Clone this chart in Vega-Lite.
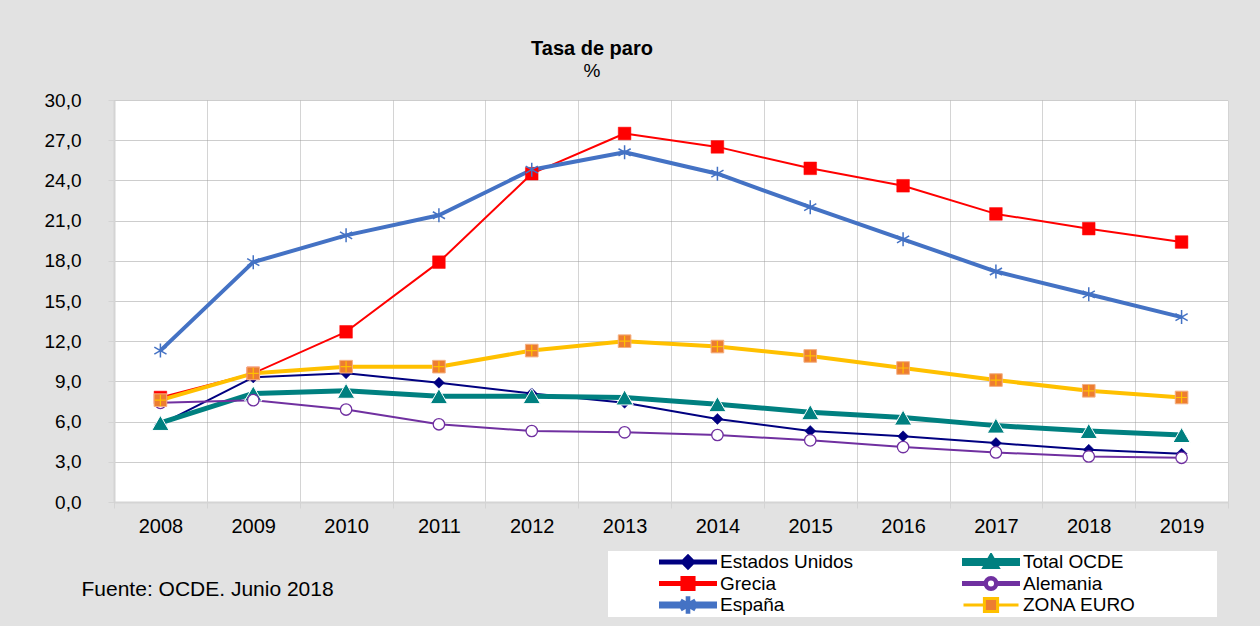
{
  "$schema": "https://vega.github.io/schema/vega-lite/v6.json",
  "background": "#e2e2e2",
  "autosize": {"type": "none"},
  "padding": {"left": 114, "top": 100, "right": 32, "bottom": 124},
  "width": 1114,
  "height": 402,
  "title": {
    "text": "Tasa de paro",
    "subtitle": "%",
    "frame": "group",
    "anchor": "middle",
    "dx": -79,
    "offset": 10,
    "font": "Liberation Sans",
    "fontSize": 20,
    "fontWeight": "bold",
    "color": "black",
    "subtitleFont": "Liberation Sans",
    "subtitleFontSize": 19,
    "subtitleColor": "black",
    "subtitlePadding": 3
  },
  "config": {
    "view": {"fill": "white", "stroke": null},
    "font": "Liberation Sans"
  },
  "data": {
    "values": [
      {"anio": 2008, "serie": "Estados Unidos", "valor": 5.8},
      {"anio": 2009, "serie": "Estados Unidos", "valor": 9.3},
      {"anio": 2010, "serie": "Estados Unidos", "valor": 9.6},
      {"anio": 2011, "serie": "Estados Unidos", "valor": 8.9},
      {"anio": 2012, "serie": "Estados Unidos", "valor": 8.1},
      {"anio": 2013, "serie": "Estados Unidos", "valor": 7.4},
      {"anio": 2014, "serie": "Estados Unidos", "valor": 6.2},
      {"anio": 2015, "serie": "Estados Unidos", "valor": 5.3},
      {"anio": 2016, "serie": "Estados Unidos", "valor": 4.9},
      {"anio": 2017, "serie": "Estados Unidos", "valor": 4.4},
      {"anio": 2018, "serie": "Estados Unidos", "valor": 3.9},
      {"anio": 2019, "serie": "Estados Unidos", "valor": 3.6},
      {"anio": 2008, "serie": "Total OCDE", "valor": 5.9},
      {"anio": 2009, "serie": "Total OCDE", "valor": 8.1},
      {"anio": 2010, "serie": "Total OCDE", "valor": 8.3},
      {"anio": 2011, "serie": "Total OCDE", "valor": 7.9},
      {"anio": 2012, "serie": "Total OCDE", "valor": 7.9},
      {"anio": 2013, "serie": "Total OCDE", "valor": 7.8},
      {"anio": 2014, "serie": "Total OCDE", "valor": 7.3},
      {"anio": 2015, "serie": "Total OCDE", "valor": 6.7},
      {"anio": 2016, "serie": "Total OCDE", "valor": 6.3},
      {"anio": 2017, "serie": "Total OCDE", "valor": 5.7},
      {"anio": 2018, "serie": "Total OCDE", "valor": 5.3},
      {"anio": 2019, "serie": "Total OCDE", "valor": 5.0},
      {"anio": 2008, "serie": "Grecia", "valor": 7.8},
      {"anio": 2009, "serie": "Grecia", "valor": 9.6},
      {"anio": 2010, "serie": "Grecia", "valor": 12.7},
      {"anio": 2011, "serie": "Grecia", "valor": 17.9},
      {"anio": 2012, "serie": "Grecia", "valor": 24.5},
      {"anio": 2013, "serie": "Grecia", "valor": 27.5},
      {"anio": 2014, "serie": "Grecia", "valor": 26.5},
      {"anio": 2015, "serie": "Grecia", "valor": 24.9},
      {"anio": 2016, "serie": "Grecia", "valor": 23.6},
      {"anio": 2017, "serie": "Grecia", "valor": 21.5},
      {"anio": 2018, "serie": "Grecia", "valor": 20.4},
      {"anio": 2019, "serie": "Grecia", "valor": 19.4},
      {"anio": 2008, "serie": "Alemania", "valor": 7.4},
      {"anio": 2009, "serie": "Alemania", "valor": 7.6},
      {"anio": 2010, "serie": "Alemania", "valor": 6.9},
      {"anio": 2011, "serie": "Alemania", "valor": 5.8},
      {"anio": 2012, "serie": "Alemania", "valor": 5.3},
      {"anio": 2013, "serie": "Alemania", "valor": 5.2},
      {"anio": 2014, "serie": "Alemania", "valor": 5.0},
      {"anio": 2015, "serie": "Alemania", "valor": 4.6},
      {"anio": 2016, "serie": "Alemania", "valor": 4.1},
      {"anio": 2017, "serie": "Alemania", "valor": 3.7},
      {"anio": 2018, "serie": "Alemania", "valor": 3.4},
      {"anio": 2019, "serie": "Alemania", "valor": 3.3},
      {"anio": 2008, "serie": "España", "valor": 11.3},
      {"anio": 2009, "serie": "España", "valor": 17.9},
      {"anio": 2010, "serie": "España", "valor": 19.9},
      {"anio": 2011, "serie": "España", "valor": 21.4},
      {"anio": 2012, "serie": "España", "valor": 24.8},
      {"anio": 2013, "serie": "España", "valor": 26.1},
      {"anio": 2014, "serie": "España", "valor": 24.5},
      {"anio": 2015, "serie": "España", "valor": 22.0},
      {"anio": 2016, "serie": "España", "valor": 19.6},
      {"anio": 2017, "serie": "España", "valor": 17.2},
      {"anio": 2018, "serie": "España", "valor": 15.5},
      {"anio": 2019, "serie": "España", "valor": 13.8},
      {"anio": 2008, "serie": "ZONA EURO", "valor": 7.6},
      {"anio": 2009, "serie": "ZONA EURO", "valor": 9.6},
      {"anio": 2010, "serie": "ZONA EURO", "valor": 10.1},
      {"anio": 2011, "serie": "ZONA EURO", "valor": 10.1},
      {"anio": 2012, "serie": "ZONA EURO", "valor": 11.3},
      {"anio": 2013, "serie": "ZONA EURO", "valor": 12.0},
      {"anio": 2014, "serie": "ZONA EURO", "valor": 11.6},
      {"anio": 2015, "serie": "ZONA EURO", "valor": 10.9},
      {"anio": 2016, "serie": "ZONA EURO", "valor": 10.0},
      {"anio": 2017, "serie": "ZONA EURO", "valor": 9.1},
      {"anio": 2018, "serie": "ZONA EURO", "valor": 8.3},
      {"anio": 2019, "serie": "ZONA EURO", "valor": 7.8}
    ]
  },
  "encoding": {
    "y": {
      "field": "valor",
      "type": "quantitative",
      "scale": {"domain": [0, 30], "nice": false, "zero": true},
      "axis": {
        "title": null,
        "values": [0, 3, 6, 9, 12, 15, 18, 21, 24, 27, 30],
        "labelExpr": "replace(format(datum.value, '.1f'), '.', ',')",
        "labelFont": "Liberation Sans",
        "labelFontSize": 19,
        "labelColor": "black",
        "labelPadding": 27,
        "tickSize": 6,
        "tickColor": "#d4d4d4",
        "tickWidth": 1,
        "domain": true,
        "domainColor": "#d4d4d4",
        "domainWidth": 2,
        "grid": true,
        "gridColor": "#9a9a9a",
        "gridDash": [1, 1],
        "gridWidth": 1
      }
    }
  },
  "layer": [
    {
      "mark": {"type": "line", "strokeJoin": "round"},
      "encoding": {
        "x": {
          "field": "anio",
          "type": "quantitative",
          "scale": {"domain": [2007.5, 2019.5], "nice": false, "zero": false},
          "axis": {
            "orient": "bottom",
            "title": null,
            "values": [2007.5, 2008.5, 2009.5, 2010.5, 2011.5, 2012.5, 2013.5, 2014.5, 2015.5, 2016.5, 2017.5, 2018.5, 2019.5],
            "labels": false,
            "ticks": true,
            "tickSize": 6,
            "tickColor": "#d4d4d4",
            "domain": true,
            "domainColor": "#d4d4d4",
            "domainWidth": 2,
            "grid": true,
            "gridColor": "#d4d4d4",
            "gridWidth": 1
          }
        },
        "color": {
          "field": "serie",
          "type": "nominal",
          "scale": {
            "domain": ["Estados Unidos", "Total OCDE", "Grecia", "Alemania", "España", "ZONA EURO"],
            "range": ["#000080", "#008080", "#FF0000", "#7030A0", "#4472C4", "#FFC000"]
          },
          "legend": {
            "title": "x",
            "titleOrient": "right",
            "titleColor": "white",
            "titleFontSize": 10,
            "titlePadding": 73,
            "orient": "none",
            "legendX": 494,
            "legendY": 451,
            "columns": 2,
            "direction": "horizontal",
            "columnPadding": 59,
            "rowPadding": 2.5,
            "padding": 2,
            "fillColor": "white",
            "symbolSize": 3025,
            "symbolStrokeWidth": 3,
            "symbolOffset": 49,
            "labelOffset": 3,
            "clipHeight": 18,
            "labelFont": "Liberation Sans",
            "labelFontSize": 19,
            "labelColor": "black",
            "encode": {
              "symbols": {
                "update": {
                  "shape": {"signal": "datum.value === 'Estados Unidos' ? 'M-1,-0.036H1V0.036H-1ZM-0.22,0L0,-0.22L0.22,0L0,0.22Z' : datum.value === 'Total OCDE' ? 'M-1,-0.09H1V0.09H-1ZM0,-0.26L0.26,0.2H-0.26Z' : datum.value === 'Grecia' ? 'M-1,-0.036H1V0.036H-1ZM-0.22,-0.22H0.22V0.22H-0.22Z' : datum.value === 'Alemania' ? 'M-1,-0.036H-0.22V0.036H-1ZM0.22,-0.036H1V0.036H0.22ZM-0.22,0A0.22,0.22 0 1,1 0.22,0A0.22,0.22 0 1,1 -0.22,0ZM-0.165,0A0.165,0.165 0 1,0 0.165,0A0.165,0.165 0 1,0 -0.165,0Z' : datum.value === 'España' ? 'M-1,-0.075H1V0.075H-1ZM-0.03,-0.26H0.03V0.26H-0.03ZM-0.21,-0.156L0.24,0.104L0.21,0.156L-0.24,-0.104ZM-0.24,0.104L0.21,-0.156L0.24,-0.104L-0.21,0.156Z' : 'M-1,0H-0.24M0.24,0H1M-0.24,-0.24H0.24V0.24H-0.24Z'"},
                  "fill": {"signal": "datum.value === 'Estados Unidos' ? '#000080' : datum.value === 'Total OCDE' ? '#008080' : datum.value === 'Grecia' ? '#FF0000' : datum.value === 'Alemania' ? '#7030A0' : datum.value === 'España' ? '#4472C4' : '#ED7D31'"},
                  "stroke": {"signal": "datum.value === 'ZONA EURO' ? '#FFC000' : 'transparent'"},
                  "fillOpacity": {"value": 1},
                  "strokeOpacity": {"value": 1},
                  "opacity": {"value": 1}
                }
              }
            }
          }
        },
        "strokeWidth": {
          "field": "serie",
          "type": "nominal",
          "scale": {
            "type": "ordinal",
            "domain": ["ZONA EURO", "España", "Alemania", "Grecia", "Total OCDE", "Estados Unidos"],
            "range": [4, 4, 2, 2, 5, 2]
          },
          "legend": null
        }
      }
    },
    {
      "mark": {"type": "point", "opacity": 1},
      "encoding": {
        "x": {
          "field": "anio",
          "type": "quantitative",
          "scale": {"domain": [2007.5, 2019.5], "nice": false, "zero": false},
          "axis": {
            "orient": "bottom",
            "title": "Fuente: OCDE. Junio 2018",
            "titleX": -33,
            "titleY": 87,
            "titleAlign": "left",
            "titleBaseline": "middle",
            "titleAnchor": "start",
            "titleFont": "Liberation Sans",
            "titleFontSize": 21,
            "titleFontWeight": "normal",
            "titleColor": "black",
            "values": [2008, 2009, 2010, 2011, 2012, 2013, 2014, 2015, 2016, 2017, 2018, 2019],
            "format": "d",
            "labelFont": "Liberation Sans",
            "labelFontSize": 20,
            "labelColor": "black",
            "labelPadding": 14,
            "labelDx": -6,
            "labelFlush": false,
            "labelOverlap": false,
            "ticks": false,
            "domain": false,
            "grid": false
          }
        },
        "shape": {
          "field": "serie",
          "type": "nominal",
          "scale": {
            "domain": ["ZONA EURO", "España", "Alemania", "Grecia", "Total OCDE", "Estados Unidos"],
            "range": ["square", "M0,-1V1M-0.87,-0.5L0.87,0.5M-0.87,0.5L0.87,-0.5", "circle", "square", "triangle-up", "diamond"]
          },
          "legend": null
        },
        "fill": {
          "field": "serie",
          "type": "nominal",
          "scale": {
            "domain": ["ZONA EURO", "España", "Alemania", "Grecia", "Total OCDE", "Estados Unidos"],
            "range": ["#ED7D31", "transparent", "#FFFFFF", "#FF0000", "#008080", "#000080"]
          },
          "legend": null
        },
        "stroke": {
          "field": "serie",
          "type": "nominal",
          "scale": {
            "domain": ["ZONA EURO", "España", "Alemania", "Grecia", "Total OCDE", "Estados Unidos"],
            "range": ["#F4B183", "#4472C4", "#7030A0", "#FF0000", "#FFFFFF", "#000080"]
          },
          "legend": null
        },
        "size": {
          "field": "serie",
          "type": "nominal",
          "scale": {
            "type": "ordinal",
            "domain": ["ZONA EURO", "España", "Alemania", "Grecia", "Total OCDE", "Estados Unidos"],
            "range": [160, 196, 130, 160, 300, 121]
          },
          "legend": null
        },
        "strokeWidth": {
          "field": "serie",
          "type": "nominal",
          "scale": {
            "type": "ordinal",
            "domain": ["ZONA EURO", "España", "Alemania", "Grecia", "Total OCDE", "Estados Unidos"],
            "range": [1, 1.5, 1.3, 0.5, 1, 0.5]
          },
          "legend": null
        }
      }
    },
    {
      "transform": [{"filter": "datum.serie === 'ZONA EURO'"}],
      "mark": {"type": "point", "shape": "M-1,0H1M0,-1V1", "size": 121, "filled": false, "stroke": "#FFC000", "strokeWidth": 1.2, "opacity": 1},
      "encoding": {
        "x": {
          "field": "anio",
          "type": "quantitative",
          "scale": {"domain": [2007.5, 2019.5], "nice": false, "zero": false},
          "axis": null
        }
      }
    }
  ],
  "resolve": {"axis": {"x": "independent"}, "scale": {"strokeWidth": "independent"}}
}
